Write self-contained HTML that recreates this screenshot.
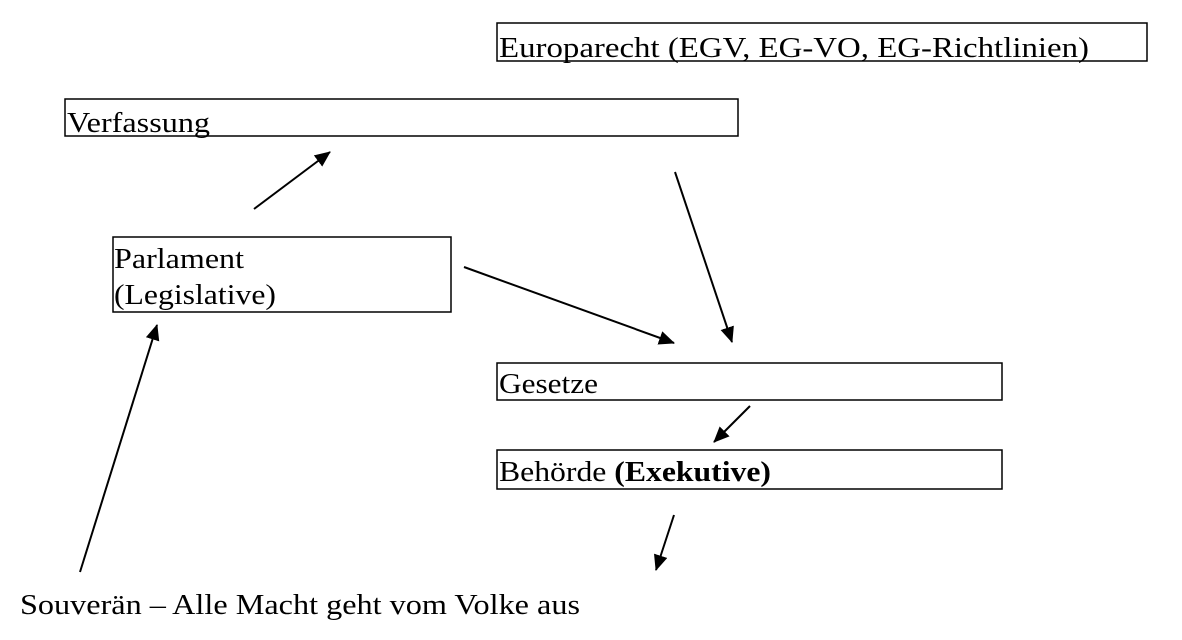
<!DOCTYPE html>
<html><head><meta charset="utf-8"><style>body{margin:0;background:#fff}svg{display:block}</style></head>
<body>
<svg width="1182" height="640" viewBox="0 0 1182 640" xmlns="http://www.w3.org/2000/svg" font-family="'Liberation Serif', serif" font-size="29" fill="#000">
<defs>
<marker id="b" markerWidth="16" markerHeight="14" refX="15" refY="7" orient="auto" markerUnits="userSpaceOnUse" viewBox="0 0 16 14"><path d="M0,0 L16,7 L0,14 z" fill="#000"/></marker></defs>
<g fill="none" stroke="#000" stroke-width="1.5">
<rect x="497" y="23" width="650" height="38"/>
<rect x="65" y="99" width="673" height="37"/>
<rect x="113" y="237" width="338" height="75"/>
<rect x="497" y="363" width="505" height="37"/>
<rect x="497" y="450" width="505" height="39"/>
</g>
<g stroke="#000" stroke-width="2" marker-end="url(#b)">
<line x1="254" y1="209" x2="330" y2="152"/>
<line x1="464" y1="267" x2="674" y2="343"/>
<line x1="675" y1="172" x2="732" y2="342"/>
<line x1="80" y1="572" x2="157" y2="325"/>
<line x1="750" y1="406" x2="714" y2="442"/>
<line x1="674" y1="515" x2="656" y2="570"/>
</g>
<text x="499" y="57" textLength="590" lengthAdjust="spacingAndGlyphs">Europarecht (EGV, EG-VO, EG-Richtlinien)</text>
<text x="67" y="132" textLength="143" lengthAdjust="spacingAndGlyphs">Verfassung</text>
<text x="114" y="268" textLength="130" lengthAdjust="spacingAndGlyphs">Parlament</text>
<text x="114" y="304" textLength="162" lengthAdjust="spacingAndGlyphs">(Legislative)</text>
<text x="499" y="393" textLength="99" lengthAdjust="spacingAndGlyphs">Gesetze</text>
<text x="499" y="481" textLength="272" lengthAdjust="spacingAndGlyphs">Behörde <tspan font-weight="bold">(Exekutive)</tspan></text>
<text x="20" y="614" textLength="560" lengthAdjust="spacingAndGlyphs">Souverän – Alle Macht geht vom Volke aus</text>
</svg>
</body></html>
